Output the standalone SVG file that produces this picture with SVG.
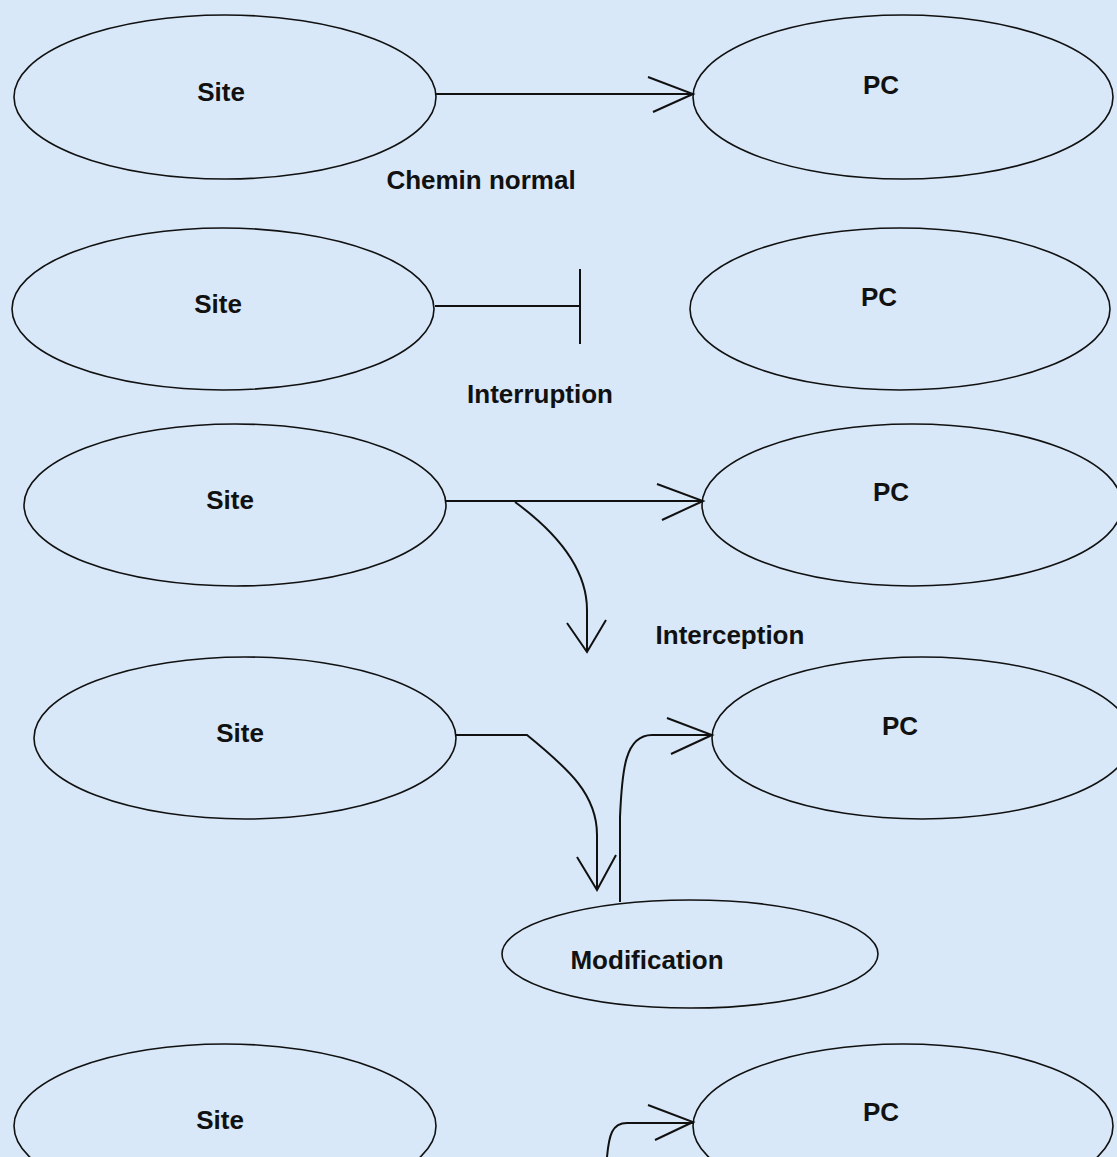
<svg xmlns="http://www.w3.org/2000/svg" width="1117" height="1157" viewBox="0 0 1117 1157">
<style>
.bg{fill:#D8E8F8}
.node ellipse{fill:none;stroke:#111;stroke-width:1.6}
.lbl{font-family:"Liberation Sans",Arial,sans-serif;font-weight:bold;font-size:26px;fill:#111;text-anchor:middle}
.edge{fill:none;stroke:#111;stroke-width:2}
</style>
<rect class="bg" x="0" y="0" width="1117" height="1157"/>
<g id="n1-site" class="node"><ellipse cx="225" cy="97" rx="211" ry="82"/><text class="lbl" x="221" y="101">Site</text></g>
<g id="n1-pc" class="node"><ellipse cx="903" cy="97" rx="210" ry="82"/><text class="lbl" x="881" y="94">PC</text></g>
<g id="n2-site" class="node"><ellipse cx="223" cy="309" rx="211" ry="81"/><text class="lbl" x="218" y="313">Site</text></g>
<g id="n2-pc" class="node"><ellipse cx="900" cy="309" rx="210" ry="81"/><text class="lbl" x="879" y="306">PC</text></g>
<g id="n3-site" class="node"><ellipse cx="235" cy="505" rx="211" ry="81"/><text class="lbl" x="230" y="509">Site</text></g>
<g id="n3-pc" class="node"><ellipse cx="912" cy="505" rx="210" ry="81"/><text class="lbl" x="891" y="501">PC</text></g>
<g id="n4-site" class="node"><ellipse cx="245" cy="738" rx="211" ry="81"/><text class="lbl" x="240" y="742">Site</text></g>
<g id="n4-pc" class="node"><ellipse cx="922" cy="738" rx="210" ry="81"/><text class="lbl" x="900" y="735">PC</text></g>
<g id="n4-mod" class="node"><ellipse cx="690" cy="954" rx="188" ry="54"/><text class="lbl" x="647" y="969">Modification</text></g>
<g id="n5-site" class="node"><ellipse cx="225" cy="1126" rx="211" ry="82"/><text class="lbl" x="220" y="1129">Site</text></g>
<g id="n5-pc" class="node"><ellipse cx="903" cy="1126" rx="210" ry="82"/><text class="lbl" x="881" y="1121">PC</text></g>
<g id="labels">
<text class="lbl" x="481" y="189">Chemin normal</text>
<text class="lbl" x="540" y="403">Interruption</text>
<text class="lbl" x="730" y="644">Interception</text>
</g>
<g id="connectors">
<path class="edge" d="M436,94 H693"/>
<path class="edge" d="M648,77 L693,94 L653,112"/>
<path class="edge" d="M435,306 H580 M580,269 V344"/>
<path class="edge" d="M446,501 H703"/>
<path class="edge" d="M657,484 L703,501 L662,520"/>
<path class="edge" d="M515,502 C560,535 587,570 587,610 V652"/>
<path class="edge" d="M567,623 L587,652 L606,620"/>
<path class="edge" d="M455,735 H527 C570,770 597,795 597,835 V890"/>
<path class="edge" d="M577,857 L597,890 L616,855"/>
<path class="edge" d="M620,902 V817 C622,770 625,735 652,735 H712"/>
<path class="edge" d="M667,718 L712,735 L671,754"/>
<path class="edge" d="M607,1157 C609,1135 612,1123 627,1123 H693"/>
<path class="edge" d="M648,1105 L693,1122 L655,1140"/>
</g>
</svg>
